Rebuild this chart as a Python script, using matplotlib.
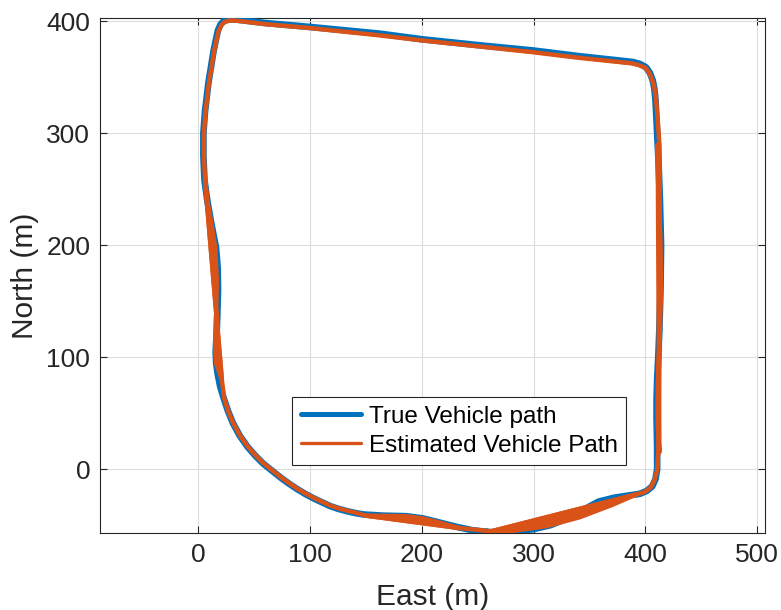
import matplotlib.pyplot as plt
import numpy as np

# true vehicle path, metres (east, north)
true_east = [258, 270, 285, 300, 315, 330, 345, 358, 372, 385, 395, 401, 406, 409, 410.5,
             410.5, 410, 410, 410.5, 411.5, 412.5, 413.5, 414, 413, 411.5, 410, 409, 408,
             406.5, 404, 400.5, 395, 388.7, 340, 299.4, 252, 200, 162.5, 100, 60, 35,
             28, 23, 20, 17.5, 13.7, 9, 6, 4.5, 4.5, 5.5, 8, 11.5, 15.8, 17.3, 17.6, 17,
             16.5, 15.5, 16, 17.5, 19.5, 22.5, 26.5, 31, 37, 44, 51, 58, 65.5, 73, 80.5,
             88, 95.5, 103, 110.5, 118, 125.5, 133, 140.5, 148, 165, 186, 201, 215, 231,
             245, 258]
true_north = [-56, -56.5, -55.5, -53.5, -50, -44, -36, -29, -25.5, -23.5, -22, -19.5, -15.5,
              -9, 0, 20, 45, 62, 80, 100, 125, 160, 200, 240, 280, 310, 330, 340, 347.5,
              354, 359, 362, 363.7, 369, 374, 378.6, 384, 389, 395, 398.5, 401.5, 401.8,
              400.5, 397.5, 392, 374, 345, 320, 300, 280, 258, 240, 220, 198, 180, 160,
              140, 124, 105, 94, 84, 74, 64, 52, 41, 30, 20, 12, 5, -1, -7, -12.5, -17.5,
              -22, -26, -29.5, -33, -35.5, -37.5, -39.2, -40.5, -41.5, -42, -44, -47.5,
              -51.5, -54.5, -56]

# estimated path, metres (east, north)
est_east = [262, 392, 399, 404.5, 408, 410.5, 411.5, 412.5, 413, 412.5, 411, 409.5, 408,
            406, 403.5, 400, 394, 388, 340, 299, 252, 200, 162, 100, 60, 35, 28, 23.5,
            20.5, 18, 14, 9.5, 6.5, 5, 5, 6, 21, 23, 26.5, 31, 37, 44, 51, 58, 65.5, 73,
            80.5, 88, 95.5, 103, 110.5, 118, 125.5, 133, 140.5, 150, 233, 262]
est_north = [-55.5, -22.5, -20.5, -16.5, -10, -1, 15, 100, 200, 290, 312, 331, 341, 348,
             354, 358.5, 361, 362.5, 367.5, 372.5, 377.5, 383, 387.5, 394, 397.5, 400.5,
             400.8, 399.5, 396.5, 391, 373, 345, 320, 300, 280, 258, 80, 64, 52.5, 41.5,
             30.5, 20.5, 12.5, 5.5, -0.5, -6.5, -12, -17, -21.5, -25.5, -29, -32.5, -35,
             -37, -38.8, -41.5, -52.5, -55.5]

# spread of the estimate along the lower edge and the two sides
band_bottom_east = [262, 282, 311, 341, 370, 392]
band_bottom_north = [-55.5, -55, -51, -43, -32, -22.5]
band_mid_east = [150, 186, 201, 215, 233]
band_mid_north = [-41.5, -42, -44, -47.5, -52.5]
band_left_east = [6, 8, 11.5, 15, 16.5, 16, 15, 16, 21]
band_left_north = [258, 240, 220, 198, 170, 140, 110, 94, 80]
band_right_east = [411, 412, 413.5, 414, 413, 412, 411, 411, 412.5]
band_right_north = [290, 240, 200, 160, 125, 100, 70, 40, 15]

blue = "#0072BD"
orange = "#D95319"
text_color = "#262626"

plt.rcParams["font.family"] = ["Liberation Sans", "DejaVu Sans"]

fig = plt.figure(figsize=(7.81, 6.10), dpi=100)
ax = fig.add_axes([100 / 781, 77 / 610, 665 / 781, 515 / 610])

ax.plot(true_east, true_north, color=blue, linewidth=4.8, solid_joinstyle="round",
        solid_capstyle="round", label="True Vehicle path", zorder=3)
ax.plot(est_east, est_north, color=orange, linewidth=3.2, solid_joinstyle="round",
        solid_capstyle="round", label="Estimated Vehicle Path", zorder=4)

for be, bn in [(band_bottom_east, band_bottom_north), (band_mid_east, band_mid_north),
               (band_left_east, band_left_north), (band_right_east, band_right_north)]:
    ax.fill(be, bn, facecolor=orange, edgecolor=orange, linewidth=3.2,
            joinstyle="round", zorder=4)

ax.set_xlim([-88, 507])
ax.set_ylim([-57, 403])
ax.set_xticks(np.arange(0, 501, 100))
ax.set_yticks(np.arange(0, 401, 100))

ax.grid(True, color="#dcdcdc", linewidth=0.8, zorder=0)
ax.set_axisbelow(True)
ax.tick_params(direction="in", length=5, width=0.8, colors=text_color, labelsize=19,
               top=True, right=True, pad=7)
for spine in ax.spines.values():
    spine.set_color(text_color)
    spine.set_linewidth(0.8)

ax.set_xlabel("East (m)", fontsize=21.5, color=text_color, labelpad=12)
ax.set_ylabel("North (m)", fontsize=21.5, color=text_color, labelpad=5)

leg = ax.legend(loc="upper left", bbox_to_anchor=(0.289, 0.264), borderaxespad=0,
                fontsize=17.5, fancybox=False, edgecolor=text_color, framealpha=1,
                handlelength=2.5, handletextpad=0.3, borderpad=0.35, labelspacing=0.3)
leg.get_frame().set_linewidth(0.8)
leg.get_lines()[0].set_linewidth(3.6)
leg.get_lines()[1].set_linewidth(2.4)

fig.savefig("out.png", dpi=100)
